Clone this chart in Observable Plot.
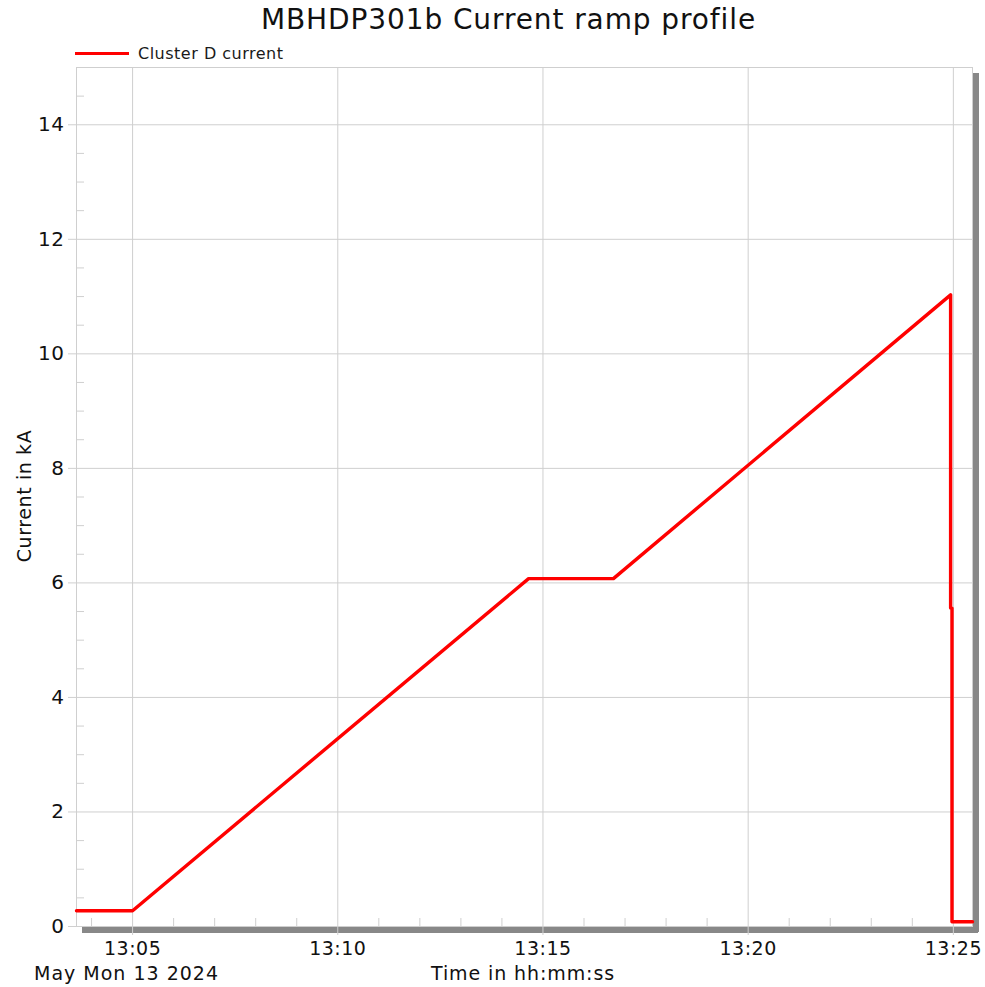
<!DOCTYPE html>
<html>
<head>
<meta charset="utf-8">
<script src="https://cdn.jsdelivr.net/npm/d3@7"></script>
<script src="https://cdn.jsdelivr.net/npm/@observablehq/plot@0.6"></script>
<style>
  body { margin: 0; background: #fff; }
  #wrap { position: relative; width: 985px; height: 987px; font-family: "DejaVu Sans", Verdana, sans-serif; color: #111; }
  #wrap svg { position: absolute; left: 0; top: 0; }
  .t { position: absolute; white-space: nowrap; }
</style>
</head>
<body>
<div id="wrap"></div>
<script>
const title = "MBHDP301b Current ramp profile";
const seriesName = "Cluster D current";
const yLabel = "Current in kA";
const xLabel = "Time in hh:mm:ss";
const dateLabel = "May Mon 13 2024";
const day = "2024-05-13";

const times   = ["13:03:38","13:05:00","13:14:39","13:16:43","13:24:56","13:24:56","13:24:58","13:24:58","13:25:28"];
const current = [0.276,     0.276,     6.075,     6.075,     11.03,     5.56,      5.56,      0.084,     0.084];

const xDomain = ["13:03:38","13:25:28"];
const xTicks  = ["13:05","13:10","13:15","13:20","13:25"];
const yDomain = [0, 15];
const yTicks  = [0, 2, 4, 6, 8, 10, 12, 14];

const parse = s => d3.utcParse("%Y-%m-%d %H:%M:%S")(day + " " + (s.length === 5 ? s + ":00" : s));
const data = times.map((t, i) => ({time: parse(t), value: current[i]}));
const xd = xDomain.map(parse);
const xt = xTicks.map(parse);
const xMinor = d3.utcMinute.range(xd[0], xd[1]).filter(d => d.getUTCMinutes() % 5 !== 0);
const yMinor = d3.range(yDomain[0], yDomain[1] + 0.001, 0.5).filter(v => v % 2 !== 0);

const fmt = d3.utcFormat("%H:%M");
const gridC = "#cfcfcf";

const chart = Plot.plot({
  width: 985,
  height: 987,
  marginLeft: 76,
  marginRight: 13,
  marginTop: 67,
  marginBottom: 61,
  style: {fontFamily: "DejaVu Sans, Verdana, sans-serif", fontSize: "19px", color: "#111", background: "transparent", letterSpacing: "0.5px"},
  x: {type: "utc", domain: xd},
  y: {domain: yDomain},
  marks: [
    Plot.gridX(xt, {stroke: gridC, strokeOpacity: 1}),
    Plot.gridY(yTicks, {stroke: gridC, strokeOpacity: 1}),
    Plot.frame({stroke: gridC}),
    // drop shadow of the plot frame
    Plot.ruleY([yDomain[0]], {x1: xd[0], x2: xd[1], dx: 6, dy: 3.5, stroke: "#888", strokeWidth: 6}),
    Plot.ruleX([xd[1]], {y1: yDomain[0], y2: yDomain[1], dx: 3.5, dy: 6, stroke: "#888", strokeWidth: 6}),
    Plot.axisY(yTicks, {anchor: "left", tickSize: 8, tickPadding: 4, stroke: gridC, fill: "#111", tickFormat: d => String(d), label: null, fontSize: 20}),
    Plot.axisY(yMinor, {anchor: "left", tickSize: 8, dx: 8, stroke: gridC, tickFormat: () => "", label: null}),
    Plot.axisX(xt, {anchor: "bottom", tickSize: 9, tickPadding: 6, stroke: gridC, fill: "#111", tickFormat: fmt, label: null, fontSize: 19}),
    Plot.axisX(xMinor, {anchor: "bottom", tickSize: 8, dy: -8, stroke: gridC, tickFormat: () => "", label: null}),
    Plot.line(data, {x: "time", y: "value", stroke: "#ff0000", strokeWidth: 3.4, curve: "linear"})
  ]
});

const wrap = document.getElementById("wrap");
wrap.appendChild(chart);

function addText(txt, css) {
  const d = document.createElement("div");
  d.className = "t";
  d.textContent = txt;
  Object.assign(d.style, css);
  wrap.appendChild(d);
  return d;
}
addText(title, {left: "0px", width: "1017px", textAlign: "center", top: "3px", fontSize: "28px", letterSpacing: "0.9px", lineHeight: "34px"});
// legend
const sw = document.createElement("div");
Object.assign(sw.style, {position: "absolute", left: "75px", top: "52px", width: "54px", height: "3px", background: "#ff0000"});
wrap.appendChild(sw);
addText(seriesName, {left: "138px", top: "44px", fontSize: "16px", letterSpacing: "0.5px", lineHeight: "19px", color: "#1a1a1a"});
addText(dateLabel, {left: "34px", top: "962px", fontSize: "19px", letterSpacing: "1px", lineHeight: "22px"});
addText(xLabel, {left: "0px", width: "1046px", textAlign: "center", top: "962px", fontSize: "19px", letterSpacing: "0.9px", lineHeight: "22px"});
const yl = addText(yLabel, {left: "24px", top: "496px", fontSize: "19px", letterSpacing: "0.6px", lineHeight: "20px", transform: "translate(-50%, -50%) rotate(-90deg)"});
</script>
</body>
</html>
